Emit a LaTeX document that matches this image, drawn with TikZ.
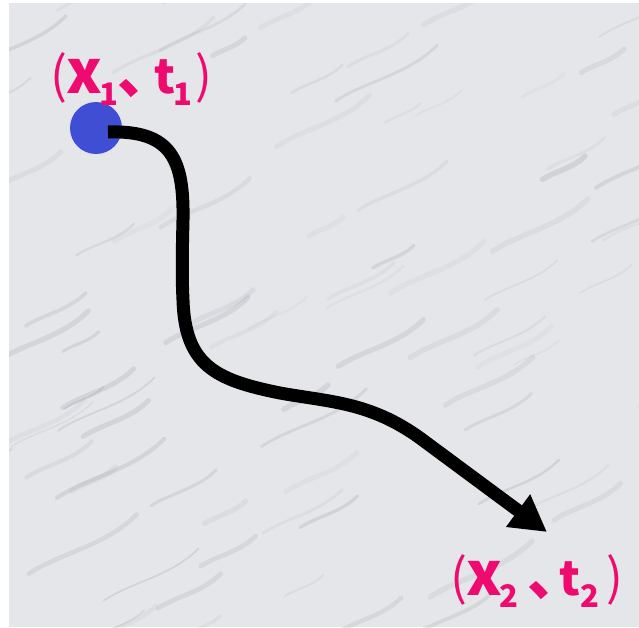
\documentclass[tikz,border=0pt]{standalone}
\usepackage{fontspec}
\usetikzlibrary{arrows.meta}
\newfontfamily\cjk{Noto Sans CJK JP}
\definecolor{marble}{RGB}{229,230,234}
\definecolor{vein}{RGB}{140,142,150}
\definecolor{dotblue}{RGB}{64,78,212}
\definecolor{labpink}{RGB}{238,10,110}
% place content at a horizontal offset from the label origin
\newcommand\putat[2]{\rlap{\kern#1pt #2}}
% #1 subscript, #2 comma offset, #3 t offset, #4 t-subscript offset, #5 close paren offset
\newcommand\mylab[5]{%
\putat{0}{\cjk\fontsize{50}{50}\selectfont (}%
\putat{16}{\cjk\bfseries\fontsize{60}{60}\selectfont x}%
\putat{49}{\raisebox{-12pt}{\cjk\bfseries\fontsize{31}{31}\selectfont #1}}%
\putat{#2}{\cjk\bfseries\fontsize{56}{56}\selectfont 、}%
\putat{#3}{\cjk\bfseries\fontsize{47}{47}\selectfont t}%
\putat{#4}{\raisebox{-12pt}{\cjk\bfseries\fontsize{31}{31}\selectfont #1}}%
\putat{#5}{\cjk\fontsize{50}{50}\selectfont )}%
\kern#5pt\kern16pt}
\tikzset{
  pathline/.style={line width=13pt, black, -{Triangle[length=36pt,width=38pt]}},
  labeltext/.style={text=labpink, inner sep=0pt, anchor=base west},
}
\begin{document}
\begin{tikzpicture}[x=1pt,y=-1pt]
\useasboundingbox (0,0) rectangle (639,627);
\fill[marble] (9,3) rectangle (639,627);
\begin{scope}
\clip (9,3) rectangle (639,627);
\pgfmathsetseed{7}
\foreach \i in {1,...,90}{
  \pgfmathsetmacro\xa{rnd*700-30}
  \pgfmathsetmacro\ya{rnd*680-20}
  \pgfmathsetmacro\len{30+rnd*80}
  \pgfmathsetmacro\op{0.06+rnd*0.16}
  \draw[vein, opacity=\op, line width=1.5pt+rnd*4pt, line cap=round]
    (\xa,\ya) .. controls +(\len*0.3,-\len*0.2) and +(-\len*0.3,\len*0.3) .. +(\len,-\len*0.55);
}
\end{scope}
\fill[dotblue] (96,128) circle (26) coordinate (p1);
\coordinate (start) at (108,132);
\coordinate (tip) at (547,532);
\draw[pathline] (start) .. controls (172,130) and (184,160) .. (183,220)
  .. controls (182,260) and (182,280) .. (183,300)
  .. controls (185,365) and (215,380) .. (280,393)
  .. controls (330,402) and (370,402) .. (420,438)
  -- (tip);
\node[labeltext] (l1) at (50,93) {\mylab{1}{67}{104}{123}{145}};
\node[labeltext] (l2) at (450,595) {\mylab{2}{77}{109}{130}{156}};
\end{tikzpicture}
\end{document}
